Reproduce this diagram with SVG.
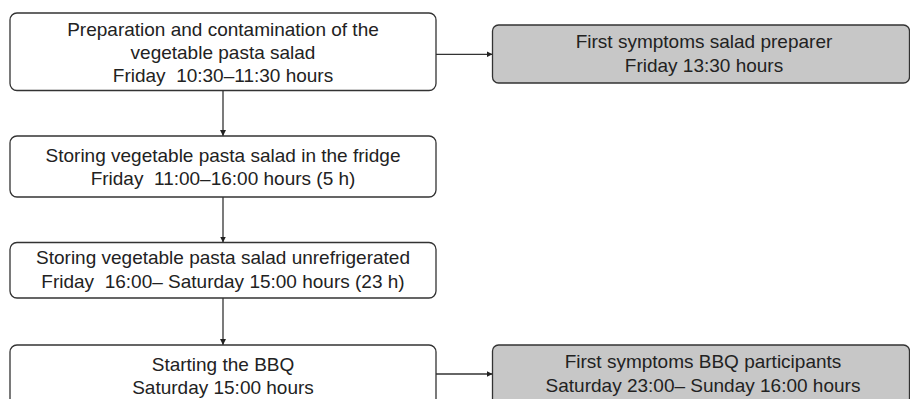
<svg xmlns="http://www.w3.org/2000/svg" width="910" height="399" viewBox="0 0 910 399">
<defs>
<style>
.box{fill:#ffffff;stroke:#333333;stroke-width:1.3}
.gbox{fill:#c7c7c7;stroke:#333333;stroke-width:1.3}
.t{font-family:"Liberation Sans",Arial,Helvetica,sans-serif;font-size:19px;fill:#222222;text-anchor:middle;white-space:pre}
.c{stroke:#333333;stroke-width:1.3;fill:none}
</style>
<marker id="ah" viewBox="0 0 10 10" refX="10" refY="5" markerWidth="6" markerHeight="6" markerUnits="userSpaceOnUse" orient="auto">
<path d="M0,0 L10,5 L0,10 z" fill="#222222"/>
</marker>
</defs>
<rect width="910" height="399" fill="#ffffff"/>
<g id="connectors">
<line class="c" x1="223" y1="90.5" x2="223" y2="136" marker-end="url(#ah)"/>
<line class="c" x1="223" y1="197" x2="223" y2="242.5" marker-end="url(#ah)"/>
<line class="c" x1="223" y1="298" x2="223" y2="345" marker-end="url(#ah)"/>
<line class="c" x1="436" y1="54.3" x2="492.5" y2="54.3" marker-end="url(#ah)"/>
<line class="c" x1="436" y1="374" x2="492.5" y2="374" marker-end="url(#ah)"/>
</g>
<g id="n1">
<rect class="box" x="10" y="13" width="426" height="77.5" rx="7"/>
<text class="t" x="223" y="36">Preparation and contamination of the</text>
<text class="t" x="223" y="58.8">vegetable pasta salad</text>
<text class="t" x="223" y="81.6" xml:space="preserve">Friday  10:30–11:30 hours</text>
</g>
<g id="n2">
<rect class="box" x="10" y="136" width="426" height="61" rx="7"/>
<text class="t" x="223" y="161.7">Storing vegetable pasta salad in the fridge</text>
<text class="t" x="223" y="185" xml:space="preserve">Friday  11:00–16:00 hours (5 h)</text>
</g>
<g id="n3">
<rect class="box" x="10" y="242.5" width="426" height="55.5" rx="7"/>
<text class="t" x="223" y="264.3">Storing vegetable pasta salad unrefrigerated</text>
<text class="t" x="223" y="287.6" xml:space="preserve">Friday  16:00– Saturday 15:00 hours (23 h)</text>
</g>
<g id="n4">
<rect class="box" x="10" y="345" width="426" height="70" rx="7"/>
<text class="t" x="223" y="371">Starting the BBQ</text>
<text class="t" x="223" y="394">Saturday 15:00 hours</text>
</g>
<g id="n5">
<rect class="gbox" x="492.5" y="25" width="417" height="58" rx="6"/>
<text class="t" x="704" y="48.3">First symptoms salad preparer</text>
<text class="t" x="704" y="71.6">Friday 13:30 hours</text>
</g>
<g id="n6">
<rect class="gbox" x="492.5" y="345" width="417" height="70" rx="6"/>
<text class="t" x="703" y="368.3">First symptoms BBQ participants</text>
<text class="t" x="703" y="391.6">Saturday 23:00– Sunday 16:00 hours</text>
</g>
</svg>
